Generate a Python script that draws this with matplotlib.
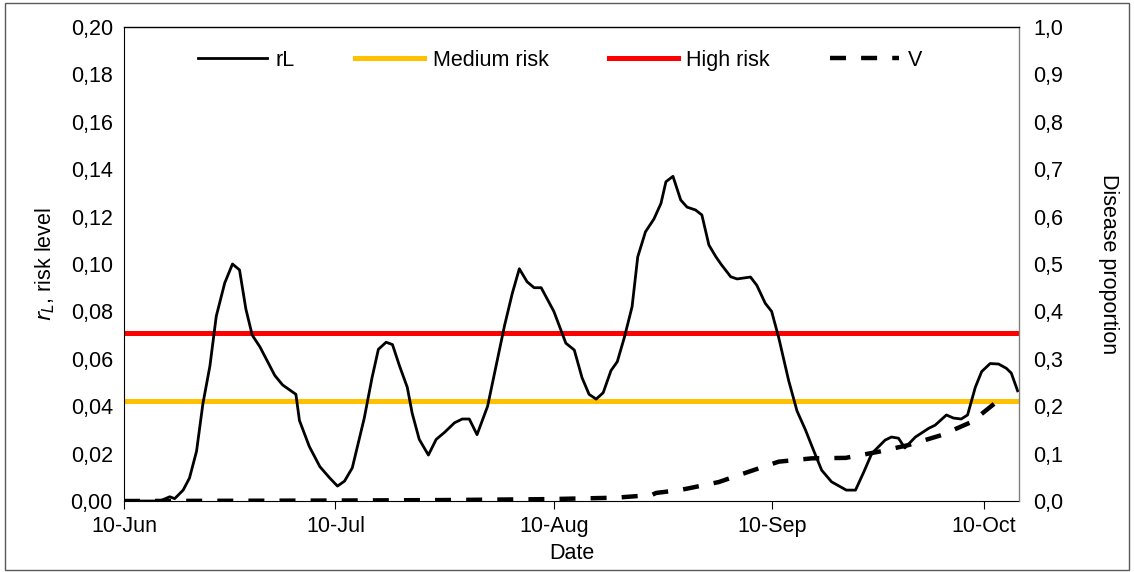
import numpy as np
import pandas as pd
import matplotlib
matplotlib.use("Agg")
import matplotlib.pyplot as plt
import matplotlib.dates as mdates
from matplotlib.ticker import FuncFormatter
from matplotlib.patches import Rectangle

plt.rcParams['font.family'] = ['Liberation Sans', 'DejaVu Sans']

# days after 10-Jun and values
rl_days = [0, 5.1, 6.5, 7.2, 8.4, 9.3, 10.3, 11.2, 12.2, 13.1, 14.3, 15.4, 16.4, 17.3,
           18.2, 19.3, 21.4, 22.5, 24.4, 24.9, 26.3, 27.8, 29.2, 30.3, 31.3, 32.4, 34.1,
           35.2, 36.1, 37.2, 38.1, 39.1, 40.2, 40.9, 41.9, 43.2, 44.3, 45.5, 46.9, 48.0,
           49.0, 50.1, 51.6, 52.8, 54.0, 55.1, 56.1, 57.2, 58.2, 59.2, 61.0, 62.7, 63.9,
           65.0, 66.0, 67.0, 68.0, 69.1, 70.0, 71.0, 72.1, 72.9, 74.0, 75.2, 76.2, 76.9,
           77.9, 79.0, 79.9, 81.1, 82.0, 83.0, 84.0, 84.8, 86.1, 87.0, 88.9, 89.8, 91.0,
           91.9, 92.9, 94.3, 95.5, 96.7, 97.9, 99.0, 100.4, 102.5, 103.8, 105.0, 106.1,
           108.0, 108.9, 109.9, 110.8, 112.3, 114.2, 115.1, 116.7, 117.7, 118.8, 119.7,
           120.8, 121.7, 122.9, 124.1, 125.2, 125.9, 126.8]
rl_vals = [0.0, 0.0, 0.0018, 0.001, 0.0046, 0.0097, 0.021, 0.041, 0.057, 0.078, 0.092,
           0.100, 0.0975, 0.081, 0.070, 0.065, 0.053, 0.049, 0.045, 0.034, 0.023, 0.0145,
           0.0097, 0.0063, 0.0084, 0.014, 0.035, 0.052, 0.064, 0.067, 0.066, 0.057, 0.048,
           0.037, 0.026, 0.0194, 0.026, 0.029, 0.033, 0.0346, 0.0346, 0.028, 0.040, 0.057,
           0.074, 0.0876, 0.098, 0.0925, 0.090, 0.090, 0.080, 0.0666, 0.0637, 0.052, 0.045,
           0.043, 0.0457, 0.055, 0.0588, 0.069, 0.082, 0.103, 0.1136, 0.119, 0.1256, 0.1347,
           0.137, 0.127, 0.124, 0.1228, 0.1207, 0.108, 0.103, 0.0996, 0.0946, 0.0937, 0.0945,
           0.091, 0.0834, 0.080, 0.069, 0.051, 0.038, 0.030, 0.021, 0.013, 0.0081, 0.0046,
           0.0046, 0.0124, 0.020, 0.0257, 0.027, 0.0265, 0.0224, 0.027, 0.0307, 0.032,
           0.0363, 0.035, 0.0346, 0.0363, 0.048, 0.0546, 0.058, 0.0578, 0.056, 0.054, 0.0465]

v_days = [0, 30, 45, 60.3, 69.8, 70.7, 74.9, 75.5, 78.8, 80.2, 84.4, 88.7, 92.9, 97.6,
          102.4, 107.1, 111.3, 116.0, 120.3, 123.8, 124.8]
v_vals = [0.0, 0.001, 0.002, 0.004, 0.007, 0.008, 0.0127, 0.017, 0.023, 0.027, 0.04,
          0.062, 0.083, 0.09, 0.091, 0.104, 0.118, 0.139, 0.167, 0.209, 0.215]

medium_risk = 0.042
high_risk = 0.071

start = pd.Timestamp('2020-06-10')
rl_dates = start + pd.to_timedelta(rl_days, unit='D')
v_dates = start + pd.to_timedelta(v_days, unit='D')
end = start + pd.Timedelta(days=127)

fs = 15.5

fig = plt.figure(figsize=(11.34, 5.72), dpi=100)
ax = fig.add_axes([0.1093, 0.1241, 0.7893, 0.8287])
ax2 = ax.twinx()

l1, = ax.plot(rl_dates, rl_vals, color='black', lw=2, label='rL', zorder=3)
l2 = ax.axhline(medium_risk, color='#FFC000', lw=3.6, label='Medium risk', zorder=2)
l3 = ax.axhline(high_risk, color='#FF0000', lw=3.6, label='High risk', zorder=2)
l4, = ax2.plot(v_dates, v_vals, color='black', lw=3.2, dashes=(3.6, 3.4), label='V')

ax.set_xlim(start, end)
ax.set_ylim(0, 0.20)
ax2.set_ylim(0, 1.0)
ax.set_yticks(np.arange(0, 0.201, 0.02))
ax2.set_yticks(np.arange(0, 1.01, 0.1))
ax.yaxis.set_major_formatter(FuncFormatter(lambda v, p: f'{v:.2f}'.replace('.', ',')))
ax2.yaxis.set_major_formatter(FuncFormatter(lambda v, p: f'{v:.1f}'.replace('.', ',')))

ticks = [pd.Timestamp(d) for d in ['2020-06-10', '2020-07-10', '2020-08-10', '2020-09-10', '2020-10-10']]
ax.set_xticks(ticks)
ax.xaxis.set_major_formatter(mdates.DateFormatter('%d-%b'))

ax.tick_params(axis='y', length=0, labelsize=fs, pad=8)
ax2.tick_params(axis='y', length=0, labelsize=fs, pad=10)
ax.tick_params(axis='x', length=6, direction='out', labelsize=fs, pad=5)

for s in ['top', 'right']:
    ax.spines[s].set_visible(False)
    ax2.spines[s].set_linewidth(1.0)
ax2.spines['top'].set_color('black')
ax2.spines['right'].set_color('#7F7F7F')
ax2.spines['left'].set_visible(False)
ax2.spines['bottom'].set_visible(False)

ax.set_xlabel('Date', fontsize=fs, labelpad=4)
ax.set_ylabel('$r_L$, risk level', fontsize=fs, labelpad=10)
ax2.set_ylabel('Disease proportion', fontsize=fs, rotation=270, labelpad=40)

fig.legend(handles=[l1, l2, l3, l4], loc='center', bbox_to_anchor=(0.494, 0.895),
           ncol=4, frameon=False, fontsize=fs, handlelength=3.2, columnspacing=2.8,
           handletextpad=0.4)

fig.patches.append(Rectangle((0.004, 0.004), 0.992, 0.99, transform=fig.transFigure,
                             fill=False, edgecolor='#595959', lw=1))

fig.savefig('out.png', dpi=100)
